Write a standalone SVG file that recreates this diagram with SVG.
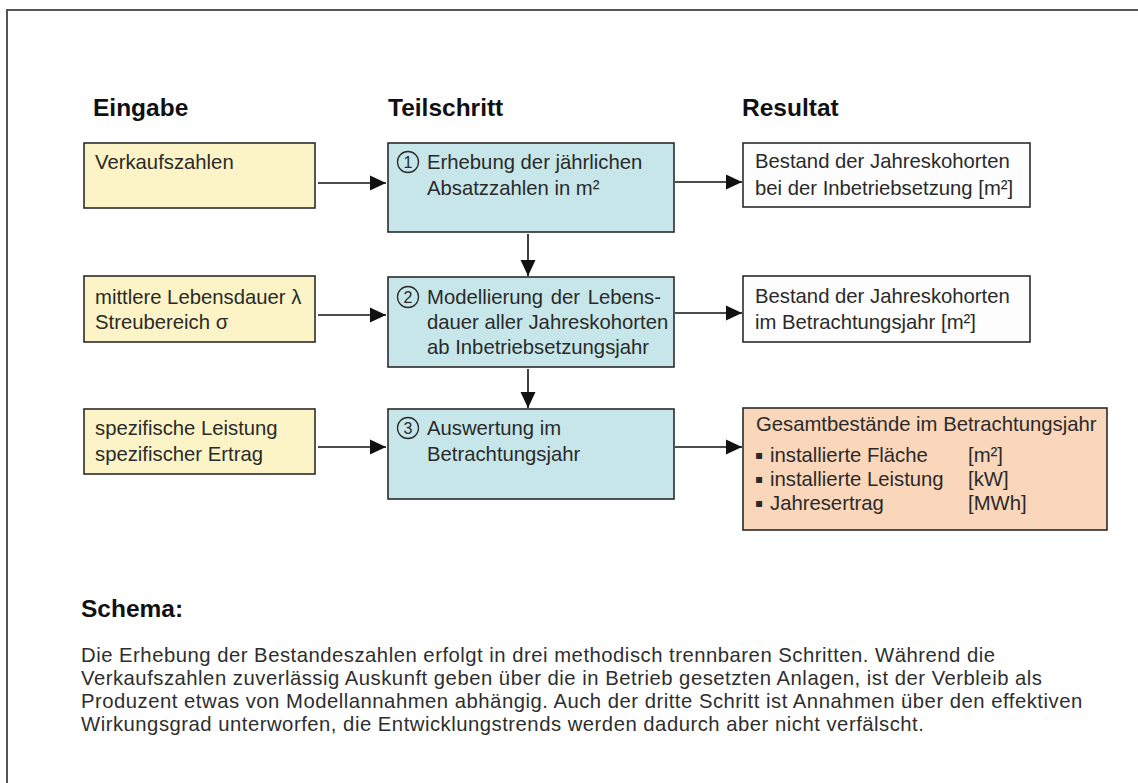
<svg xmlns="http://www.w3.org/2000/svg" width="1138" height="783" viewBox="0 0 1138 783">
<defs>
<marker id="ah" markerUnits="userSpaceOnUse" markerWidth="18" markerHeight="16" refX="16" refY="8" orient="auto">
<path d="M0,0.5 L16,8 L0,15.5 Z" fill="#111"/>
</marker>
<style>
.hdr{font-family:"Liberation Sans",Arial,sans-serif;font-weight:bold;font-size:24.5px;fill:#111}
.t{font-family:"Liberation Sans",Arial,sans-serif;font-size:20.3px;fill:#2a2a2a}
.bul{font-family:"DejaVu Sans",sans-serif;font-size:12px;fill:#2a2a2a}
.num{font-family:"Liberation Sans",Arial,sans-serif;font-size:16px;fill:#2a2a2a;text-anchor:middle}
.body{font-family:"Liberation Sans",Arial,sans-serif;font-size:20.3px;letter-spacing:0.5px;fill:#2e2e2e}
.box{stroke:#2b2b2b;stroke-width:1.6}
.yel{fill:#FCF4C6}
.blu{fill:#C6E6E9}
.wht{fill:#FDFDFD}
.org{fill:#FAD6BA}
.circ{fill:none;stroke:#2a2a2a;stroke-width:1.3}
.conn{stroke:#111;stroke-width:1.6;fill:none}
</style>
</defs>
<rect x="0" y="0" width="1138" height="783" fill="#fff"/>
<path d="M7,783 L7,10 L1138,10" fill="none" stroke="#555" stroke-width="2"/>

<g id="headers">
<text class="hdr" x="93" y="116">Eingabe</text>
<text class="hdr" x="388" y="116">Teilschritt</text>
<text class="hdr" x="742" y="116">Resultat</text>
</g>

<g id="in1">
<rect class="box yel" x="84" y="143" width="231" height="65"/>
<text class="t" x="95" y="169">Verkaufszahlen</text>
</g>
<g id="in2">
<rect class="box yel" x="84" y="276" width="231" height="66"/>
<text class="t" x="95" y="304">mittlere Lebensdauer λ</text>
<text class="t" x="95" y="329">Streubereich σ</text>
</g>
<g id="in3">
<rect class="box yel" x="84" y="409" width="231" height="65"/>
<text class="t" x="95" y="435">spezifische Leistung</text>
<text class="t" x="95" y="461">spezifischer Ertrag</text>
</g>

<g id="step1">
<rect class="box blu" x="388" y="143" width="286" height="89"/>
<circle class="circ" cx="408" cy="162" r="10.5"/>
<text class="num" x="408" y="168">1</text>
<text class="t" x="427" y="169">Erhebung der jährlichen</text>
<text class="t" x="427" y="195">Absatzzahlen in m²</text>
</g>
<g id="step2">
<rect class="box blu" x="388" y="277" width="286" height="90"/>
<circle class="circ" cx="408" cy="297" r="10.5"/>
<text class="num" x="408" y="303">2</text>
<text class="t" x="427" y="304" word-spacing="2">Modellierung der Lebens-</text>
<text class="t" x="427" y="329">dauer aller Jahreskohorten</text>
<text class="t" x="427" y="354">ab Inbetriebsetzungsjahr</text>
</g>
<g id="step3">
<rect class="box blu" x="388" y="409" width="286" height="90"/>
<circle class="circ" cx="408" cy="428" r="10.5"/>
<text class="num" x="408" y="434">3</text>
<text class="t" x="427" y="435">Auswertung im</text>
<text class="t" x="427" y="461">Betrachtungsjahr</text>
</g>

<g id="out1">
<rect class="box wht" x="743" y="143" width="287" height="64"/>
<text class="t" x="755" y="168">Bestand der Jahreskohorten</text>
<text class="t" x="755" y="195">bei der Inbetriebsetzung [m²]</text>
</g>
<g id="out2">
<rect class="box wht" x="743" y="276" width="287" height="66"/>
<text class="t" x="755" y="303">Bestand der Jahreskohorten</text>
<text class="t" x="755" y="329">im Betrachtungsjahr [m²]</text>
</g>
<g id="out3">
<rect class="box org" x="743" y="408" width="364" height="122"/>
<text class="t" x="756" y="431">Gesamtbestände im Betrachtungsjahr</text>
<text class="bul" x="755" y="459">▪</text>
<text class="t" y="462"><tspan x="770">installierte Fläche</tspan><tspan x="968">[m²]</tspan></text>
<text class="bul" x="755" y="483">▪</text>
<text class="t" y="486"><tspan x="770">installierte Leistung</tspan><tspan x="968">[kW]</tspan></text>
<text class="bul" x="755" y="507">▪</text>
<text class="t" y="510"><tspan x="770">Jahresertrag</tspan><tspan x="968">[MWh]</tspan></text>
</g>

<g id="connectors">
<line class="conn" x1="318" y1="183" x2="386" y2="183" marker-end="url(#ah)"/>
<line class="conn" x1="318" y1="315" x2="386" y2="315" marker-end="url(#ah)"/>
<line class="conn" x1="318" y1="447" x2="386" y2="447" marker-end="url(#ah)"/>
<line class="conn" x1="675" y1="182" x2="742" y2="182" marker-end="url(#ah)"/>
<line class="conn" x1="675" y1="313" x2="742" y2="313" marker-end="url(#ah)"/>
<line class="conn" x1="675" y1="447" x2="742" y2="447" marker-end="url(#ah)"/>
<line class="conn" x1="528" y1="234" x2="528" y2="276" marker-end="url(#ah)"/>
<line class="conn" x1="528" y1="369" x2="528" y2="408" marker-end="url(#ah)"/>
</g>

<g id="caption">
<text class="hdr" x="81" y="617">Schema:</text>
<text class="body" x="81" y="662">Die Erhebung der Bestandeszahlen erfolgt in drei methodisch trennbaren Schritten. Während die</text>
<text class="body" x="81" y="685">Verkaufszahlen zuverlässig Auskunft geben über die in Betrieb gesetzten Anlagen, ist der Verbleib als</text>
<text class="body" x="81" y="708">Produzent etwas von Modellannahmen abhängig. Auch der dritte Schritt ist Annahmen über den effektiven</text>
<text class="body" x="81" y="731">Wirkungsgrad unterworfen, die Entwicklungstrends werden dadurch aber nicht verfälscht.</text>
</g>
</svg>
